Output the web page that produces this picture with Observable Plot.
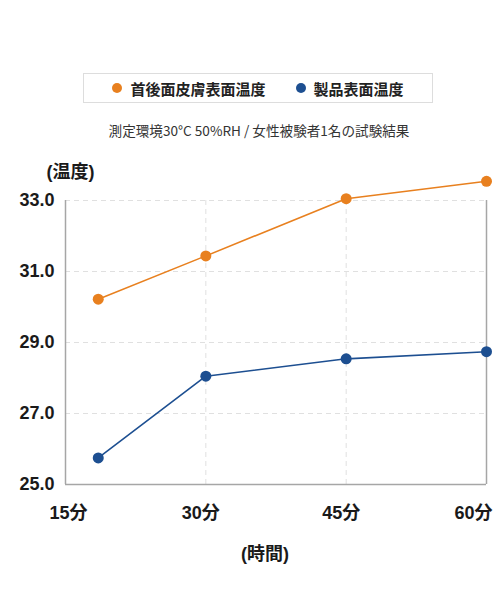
<!DOCTYPE html>
<html>
<head>
<meta charset="utf-8">
<script src="https://cdn.jsdelivr.net/npm/d3@7"></script>
<script src="https://cdn.jsdelivr.net/npm/@observablehq/plot@0.6"></script>
<style>
  body { margin: 0; background: #fff; font-family: "Liberation Sans", "Noto Sans CJK JP", sans-serif; }
  #head { position: relative; width: 500px; height: 150px; }
  #legend {
    position: absolute; left: 83px; top: 73px; width: 348px; height: 28px;
    border: 1px solid #ddd; display: flex; align-items: center; justify-content: center;
    font-family: "Noto Sans CJK JP", sans-serif;
    font-size: 15px; font-weight: bold; color: #222;
  }
  #legend .dot { width: 10px; height: 10px; border-radius: 50%; display: inline-block; margin-right: 8px; }
  #legend .item { display: flex; align-items: center; }
  #legend .item + .item { margin-left: 30px; }
  #sub {
    position: absolute; top: 120px; left: 9px; width: 500px; text-align: center;
    font-family: "Noto Sans CJK JP", sans-serif; font-size: 13.6px; color: #333;
  }
</style>
</head>
<body>
<div id="head">
  <div id="legend"></div>
  <div id="sub">測定環境30°C 50%RH / 女性被験者1名の試験結果</div>
</div>
<div id="chart"></div>
<script>
// 計測時間（分）: 最初の点は15分目盛りより少し右にある
const times = [18.5, 30, 45, 60];
const series = ["首後面皮膚表面温度", "製品表面温度"];
const skinTemp = [30.22, 31.44, 33.05, 33.54];
const productTemp = [25.75, 28.05, 28.54, 28.74];
const colors = ["#e8801f", "#1d4f91"];
const xTicks = [15, 30, 45, 60];
const yTicks = [25, 27, 29, 31, 33];

const data = [];
times.forEach((t, i) => {
  data.push({series: series[0], time: t, temp: skinTemp[i]});
  data.push({series: series[1], time: t, temp: productTemp[i]});
});

// 凡例
const legend = d3.select("#legend");
series.forEach((s, i) => {
  const item = legend.append("span").attr("class", "item");
  item.append("span").attr("class", "dot").style("background", colors[i]);
  item.append("span").text(s);
});

const tickFont = {fontSize: 18, fontWeight: "bold", fill: "#1a1a1a"};
const fmtMin = d => d + "分";

let chart = Plot.plot({
  width: 500,
  height: 450,
  marginTop: 50,
  marginLeft: 65,
  marginRight: 14,
  marginBottom: 116,
  style: {fontFamily: "'Liberation Sans', 'Noto Sans CJK JP', sans-serif", background: "white"},
  x: {domain: [15, 60]},
  y: {domain: [25, 33]},
  color: {domain: series, range: colors},
  marks: [
    Plot.gridY(yTicks.slice(1), {stroke: "#e0e0e0", strokeOpacity: 1, strokeDasharray: "5,4"}),
    Plot.gridX([30, 45], {stroke: "#e0e0e0", strokeOpacity: 1, strokeDasharray: "5,4"}),
    Plot.ruleX([15, 60], {stroke: "#a6a6a6", strokeWidth: 1.5}),
    Plot.ruleY([25], {stroke: "#a6a6a6", strokeWidth: 1.5}),
    Plot.line(data, {x: "time", y: "temp", stroke: "series", z: "series", strokeWidth: 1.6}),
    Plot.dot(data, {x: "time", y: "temp", fill: "series", r: 5.5}),
    Plot.axisY(yTicks, {tickSize: 0, tickPadding: 11, tickFormat: d3.format(".1f"), label: null, ...tickFont}),
    Plot.axisX([xTicks[0]], {tickSize: 0, tickPadding: 22, textAnchor: "start", dx: -16, tickFormat: fmtMin, label: null, ...tickFont}),
    Plot.axisX(xTicks.slice(1, 3), {tickSize: 0, tickPadding: 22, dx: -5, tickFormat: fmtMin, label: null, ...tickFont}),
    Plot.axisX([xTicks[3]], {tickSize: 0, tickPadding: 22, textAnchor: "end", dx: 6, tickFormat: fmtMin, label: null, ...tickFont}),
    Plot.text(["(温度)"], {frameAnchor: "top-left", textAnchor: "middle", lineAnchor: "middle", dx: 5, dy: -28, fontSize: 18, fontWeight: "bold", fill: "#1a1a1a"}),
    Plot.text(["(時間)"], {frameAnchor: "bottom", textAnchor: "middle", lineAnchor: "middle", dx: -11, dy: 70, fontSize: 18, fontWeight: "bold", fill: "#1a1a1a"})
  ]
});
d3.select("#chart").append(() => chart);
</script>
</body>
</html>
